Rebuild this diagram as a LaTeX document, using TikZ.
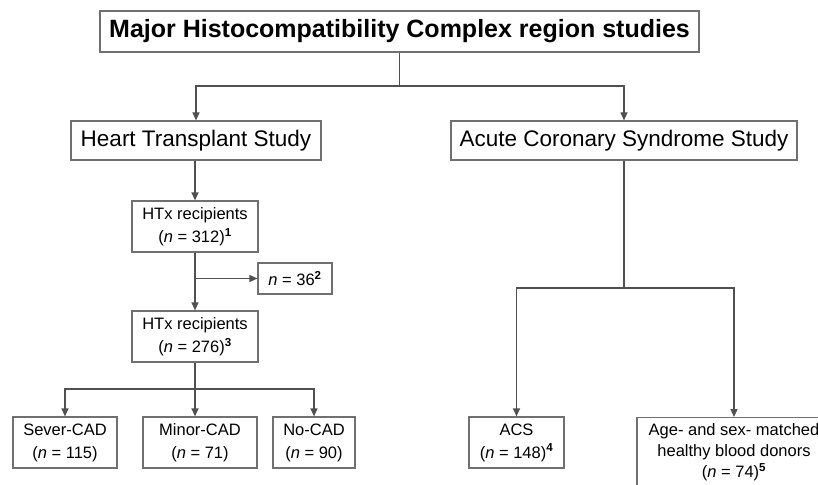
\documentclass[tikz,border=0pt]{standalone}
\usepackage{fontspec}
\setmainfont{Liberation Sans}
\usetikzlibrary{arrows.meta}
\definecolor{boxgray}{HTML}{707070}
\definecolor{linegray}{HTML}{505050}
\newcommand{\nn}[1]{(\textit{n} = #1)}
\newcommand{\fnote}[1]{\textsuperscript{\textbf{#1}}}
\begin{document}
\begin{tikzpicture}[x=1pt, y=-1pt,
    box/.style={draw=boxgray, line width=1.2pt, inner sep=0pt, align=center,
      font=\fontsize{16.5}{23}\selectfont},
    study/.style={box, minimum height=39pt, font=\fontsize{22.5}{27}\selectfont},
    link/.style={draw=linegray, line width=1.2pt},
    arrowlink/.style={link, -{Triangle[length=8pt, width=7pt]}}]
  \pgfmathsetmacro{\splitTop}{86};
  \pgfmathsetmacro{\splitHTx}{389};
  \pgfmathsetmacro{\splitACS}{288};
  \pgfmathsetmacro{\rowBottom}{442.5};
  \useasboundingbox (0,0) rectangle (818,484);
  \clip (0,0) rectangle (818,484);
  \fill[white] (0,0) rectangle (818,484);
  %% Title and the two studies
  \node[box, minimum width=599pt, minimum height=41pt,
    font=\fontsize{25}{29}\selectfont\bfseries] (mhc) at (399.5,31.5)
    {Major Histocompatibility Complex region studies};
  \node[study, minimum width=250pt] (heart) at (196,140.5) {Heart Transplant Study};
  \node[study, minimum width=346pt] (acute) at (624,140.5) {Acute Coronary Syndrome Study};
  \coordinate (mhcSplit) at (mhc.south |- 0,\splitTop);
  \draw[link] (mhc.south) -- (mhcSplit);
  \draw[arrowlink] (mhcSplit) -| (heart.north);
  \draw[arrowlink] (mhcSplit) -| (acute.north);
  %% Heart transplant branch
  \node[box, minimum width=126pt, minimum height=51pt] (htxA) at (195,226.5)
    {HTx recipients\\\nn{312}\fnote{1}};
  \node[box, minimum width=74pt, minimum height=31pt] (excl) at (295,278.5)
    {\textit{n} = 36\fnote{2}};
  \node[box, minimum width=126pt, minimum height=51pt] (htxB) at (195,336.5)
    {HTx recipients\\\nn{276}\fnote{3}};
  \draw[arrowlink] (heart.south -| htxA.north) -- (htxA.north);
  \draw[arrowlink] (htxA.south) -- (htxB.north);
  \draw[arrowlink] (htxA.south |- excl.west) -- (excl.west);
  \node[box, minimum width=104pt, minimum height=51pt] (sever) at (65,\rowBottom)
    {Sever-CAD\\\nn{115}};
  \node[box, minimum width=114pt, minimum height=51pt] (minor) at (200,\rowBottom)
    {Minor-CAD\\\nn{71}};
  \node[box, minimum width=82pt, minimum height=51pt] (nocad) at (314,\rowBottom)
    {No-CAD\\\nn{90}};
  \coordinate (htxSplit) at (htxB.south |- 0,\splitHTx);
  \draw[link] (htxB.south) -- (htxSplit);
  \draw[arrowlink] (htxSplit) -| (sever.north);
  \draw[arrowlink] (htxSplit) -| (nocad.north);
  \draw[arrowlink] (htxSplit) -- (htxSplit |- minor.north);
  %% Acute coronary syndrome branch
  \node[box, minimum width=95pt, minimum height=51pt] (acs) at (516.5,\rowBottom)
    {ACS\\\nn{148}\fnote{4}};
  \node[box, minimum width=194pt, minimum height=70pt, anchor=north,
    font=\fontsize{16.5}{21}\selectfont] (donors) at (734,417)
    {Age- and sex- matched\\healthy blood donors\\\nn{74}\fnote{5}};
  \coordinate (acuteSplit) at (acute.south |- 0,\splitACS);
  \draw[link] (acute.south) -- (acuteSplit);
  \draw[arrowlink] (acuteSplit) -| (acs.north);
  \draw[arrowlink] (acuteSplit) -| (donors.north);
\end{tikzpicture}
\end{document}
